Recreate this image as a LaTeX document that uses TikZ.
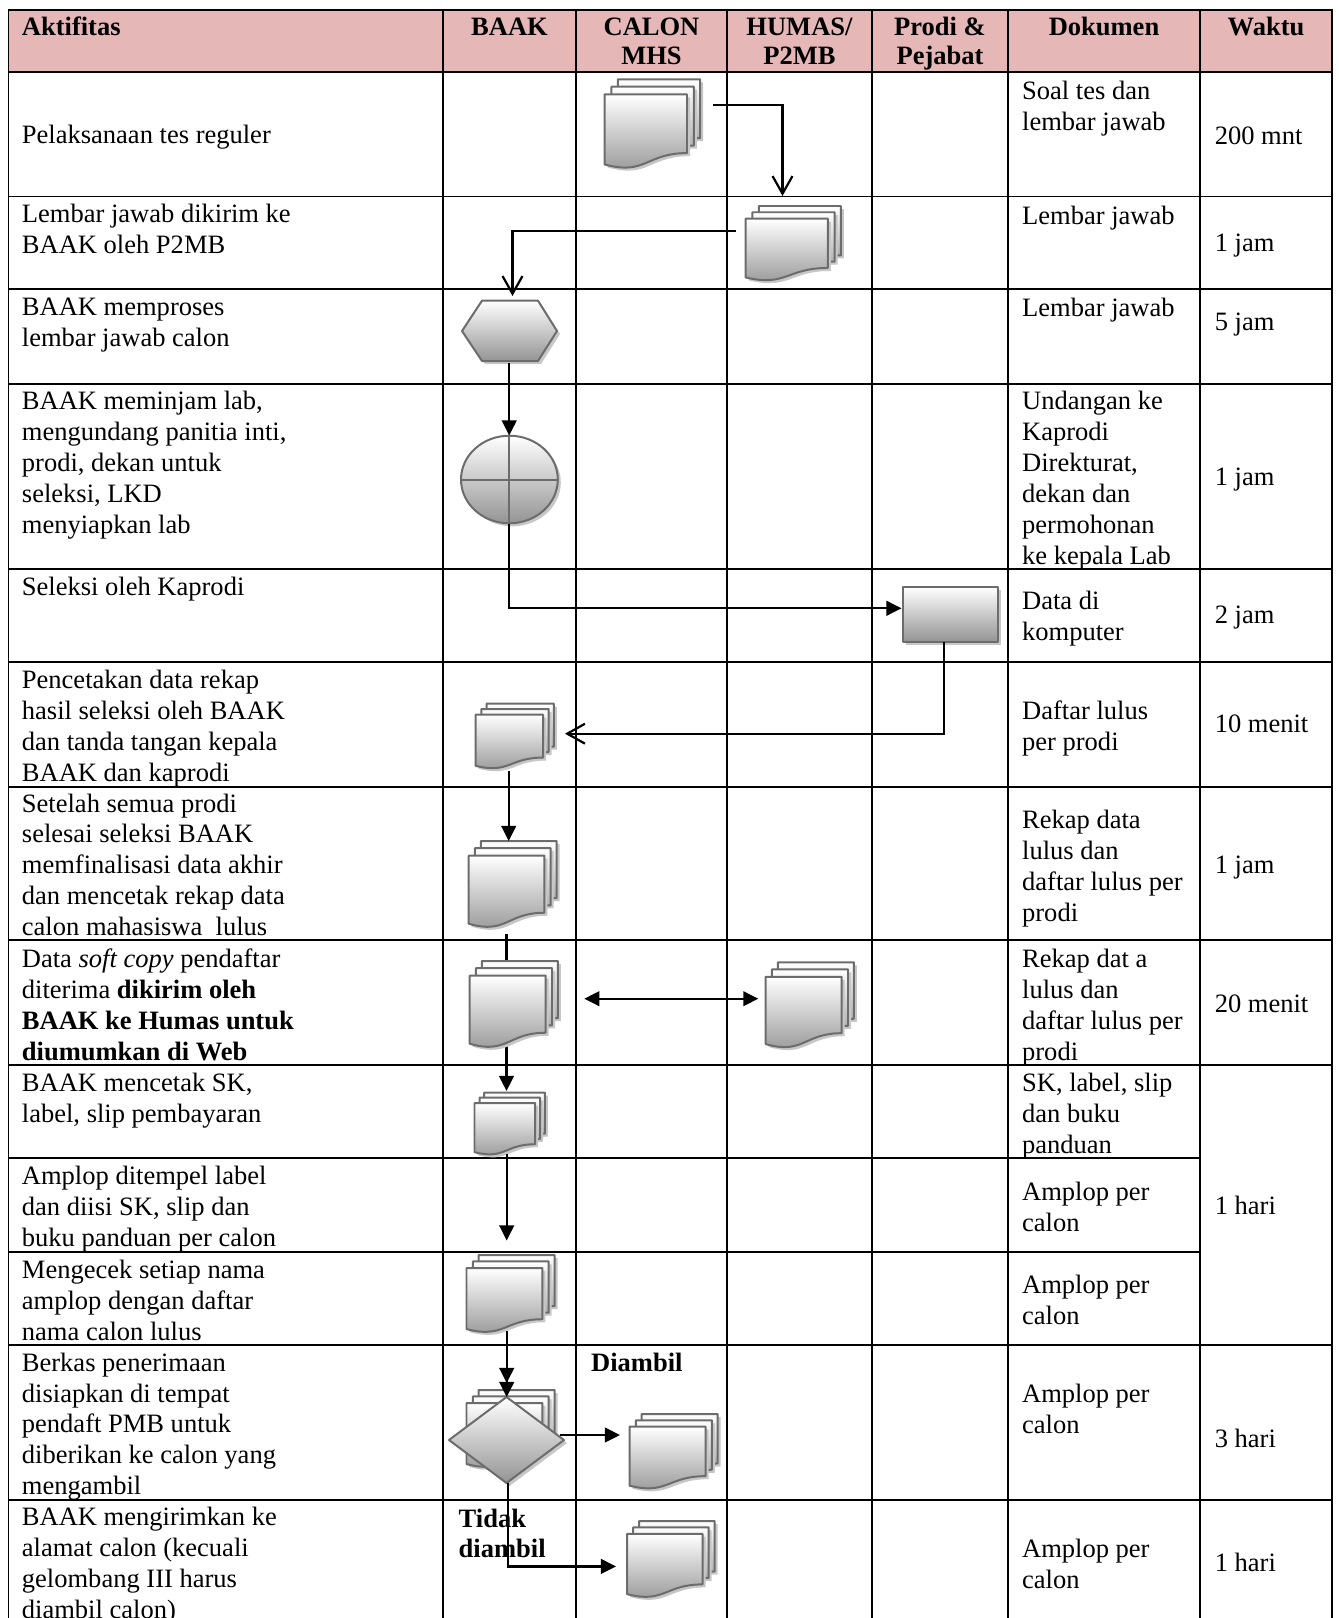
\documentclass[tikz,border=0pt]{standalone}
\usepackage{fontspec}
\setmainfont{Liberation Serif}
\usetikzlibrary{arrows.meta}
\definecolor{hdr}{RGB}{229,184,183}
\definecolor{shp}{RGB}{108,108,108}
\tikzset{
  grid/.style={line width=0.9pt, line cap=rect},
  txt/.style={anchor=north west, inner sep=0pt, align=left, font=\fontsize{12}{14}\selectfont},
  hd/.style={anchor=north, inner sep=0pt, align=center, font=\fontsize{12}{13.5}\selectfont\bfseries},
  lbl/.style={anchor=north west, inner sep=0pt, align=left, font=\fontsize{12}{13.4}\selectfont\bfseries},
  shfill/.style={fill=black!22, draw=none},
  pgfill/.style={draw=shp, line width=0.9pt, top color=white, bottom color=black!42, line join=round},
  crossln/.style={draw=shp, line width=0.9pt},
  conn/.style={line width=1pt, -{Triangle[length=6.8pt,width=6.6pt]}},
  openconn/.style={line width=1pt, -{Straight Barb[length=8pt,width=9pt]}},
  bothconn/.style={line width=1pt, {Triangle[length=6.8pt,width=6.6pt]}-{Triangle[length=6.8pt,width=6.6pt]}},
}
\newcommand\mdocpage[5]{%
  \path[#5] ({#1},{#2}) -- ({#1+#3},{#2}) -- ({#1+#3},{#2+0.664*#4})
    .. controls ({#1+0.5*#3},{#2+0.664*#4}) and ({#1+0.5*#3},{#2+0.92*#4}) .. ({#1},{#2+0.792*#4}) -- cycle;}
\newcommand\mdoc[4]{%
  \foreach \dx/\dy in {0.138/0,0.071/0.084,0/0.17}{%
    \mdocpage{#1+\dx*#3+3}{#2+\dy*#4+3}{0.861*#3}{#4}{shfill}%
    \mdocpage{#1+\dx*#3}{#2+\dy*#4}{0.861*#3}{#4}{pgfill}%
  }}
\begin{document}
\begin{tikzpicture}[x=0.4525pt,y=-0.4525pt]
\useasboundingbox (0,0) rectangle (1339,1618);
\fill[white] (0,0) rectangle (1339,1618);
% header
\fill[hdr] (8.5,10) rectangle (1332,72);
% grid
\foreach \y in {10,72,196.5,289,383.5,568.5,661.5,786.5,940,1064.7,1344.5,1499.5}
  \draw[grid] (8.5,\y) -- (1332,\y);
\foreach \y in {1158.4,1251.5}
  \draw[grid] (8.5,\y) -- (1200,\y);
\foreach \x in {8.5,443,576,727,872,1008,1200,1332}
  \draw[grid] (\x,10) -- (\x,1618);
% header texts
\node[hd, anchor=north west] (hA) at (21.5,13.8) {\strut Aktifitas};
\node[hd] (hB) at (509.5,13.8) {\strut BAAK};
\node[hd] (hC) at (651.5,13.8) {\strut CALON\\MHS};
\node[hd] (hH) at (799.5,13.8) {\strut HUMAS/\\P2MB};
\node[hd] (hP) at (940,13.8) {\strut Prodi \&\\Pejabat};
\node[hd] (hD) at (1104,13.8) {\strut Dokumen};
\node[hd] (hW) at (1266,13.8) {\strut Waktu};
% Aktifitas
\node[txt] (a1) at (21.5,121.8) {\strut Pelaksanaan tes reguler};
\node[txt] (a2) at (21.5,200.3) {\strut Lembar jawab dikirim ke\\BAAK oleh P2MB};
\node[txt] (a3) at (21.5,293.7) {\strut BAAK memproses\\lembar jawab calon};
\node[txt] (a4) at (21.5,387.6) {\strut BAAK meminjam lab,\\mengundang panitia inti,\\prodi, dekan untuk\\seleksi, LKD\\menyiapkan lab};
\node[txt] (a5) at (21.5,573.3) {\strut Seleksi oleh Kaprodi};
\node[txt] (a6) at (21.5,666.1) {\strut Pencetakan data rekap\\hasil seleksi oleh BAAK\\dan tanda tangan kepala\\BAAK dan kaprodi};
\node[txt] (a7) at (21.5,789.9) {\strut Setelah semua prodi\\selesai seleksi BAAK\\memfinalisasi data akhir\\dan mencetak rekap data\\calon mahasiswa\ \ lulus};
\node[txt] (a8) at (21.5,945.7) {\strut Data \textit{soft copy} pendaftar\\diterima \textbf{dikirim oleh}\\\textbf{BAAK ke Humas untuk}\\\textbf{diumumkan di Web}};
\node[txt] (a9) at (21.5,1069.4) {\strut BAAK mencetak SK,\\label, slip pembayaran};
\node[txt] (a10) at (21.5,1162.3) {\strut Amplop ditempel label\\dan diisi SK, slip dan\\buku panduan per calon};
\node[txt] (a11) at (21.5,1256.2) {\strut Mengecek setiap nama\\amplop dengan daftar\\nama calon lulus};
\node[txt] (a12) at (21.5,1349) {\strut Berkas penerimaan\\disiapkan di tempat\\pendaft PMB untuk\\diberikan ke calon yang\\mengambil};
\node[txt] (a13) at (21.5,1503.8) {\strut BAAK mengirimkan ke\\alamat calon (kecuali\\gelombang III harus\\diambil calon)};
% Dokumen
\node[txt] (d1) at (1021.7,77.3) {\strut Soal tes dan\\lembar jawab};
\node[txt] (d2) at (1021.7,201.9) {\strut Lembar jawab};
\node[txt] (d3) at (1021.7,294.7) {\strut Lembar jawab};
\node[txt] (d4) at (1021.7,387.6) {\strut Undangan ke\\Kaprodi\\Direkturat,\\dekan dan\\permohonan\\ke kepala Lab};
\node[txt] (d5) at (1021.7,587.7) {\strut Data di\\komputer};
\node[txt] (d6) at (1021.7,697) {\strut Daftar lulus\\per prodi};
\node[txt] (d7) at (1021.7,806.8) {\strut Rekap data\\lulus dan\\daftar lulus per\\prodi};
\node[txt] (d8) at (1021.7,945.3) {\strut Rekap dat a\\lulus dan\\daftar lulus per\\prodi};
\node[txt] (d9) at (1021.7,1069.3) {\strut SK, label, slip\\dan buku\\panduan};
\node[txt] (d10) at (1021.7,1178.8) {\strut Amplop per\\calon};
\node[txt] (d11) at (1021.7,1271.5) {\strut Amplop per\\calon};
\node[txt] (d12) at (1021.7,1380.3) {\strut Amplop per\\calon};
\node[txt] (d13) at (1021.7,1535.3) {\strut Amplop per\\calon};
% Waktu
\node[txt] (w1) at (1214.3,122.3) {\strut 200 mnt};
\node[txt] (w2) at (1214.3,229.3) {\strut 1 jam};
\node[txt] (w3) at (1214.3,308.3) {\strut 5 jam};
\node[txt] (w4) at (1214.3,463.3) {\strut 1 jam};
\node[txt] (w5) at (1214.3,601.8) {\strut 2 jam};
\node[txt] (w6) at (1214.3,710.8) {\strut 10 menit};
\node[txt] (w7) at (1214.3,851.3) {\strut 1 jam};
\node[txt] (w8) at (1214.3,990.3) {\strut 20 menit};
\node[txt] (w9) at (1214.3,1192.3) {\strut 1 hari};
\node[txt] (w12) at (1214.3,1425.3) {\strut 3 hari};
\node[txt] (w13) at (1214.3,1549.3) {\strut 1 hari};
% labels
\node[lbl] (lD) at (590.7,1350.3) {\strut Diambil};
\node[lbl] (lT) at (458.3,1506.3) {\strut Tidak\\diambil};
% connector coordinates
\coordinate (p1s) at (713,104.7);   \coordinate (p1e) at (782.5,196);
\coordinate (p2s) at (736,230.7);   \coordinate (p2e) at (512.5,296);
\coordinate (p3s) at (509.2,363);   \coordinate (p3e) at (509.2,435.5);
\coordinate (p4s) at (509.2,523.5); \coordinate (p4e) at (901.5,608.3);
\coordinate (p5s) at (944.3,641.5); \coordinate (p5e) at (565,733.7);
\coordinate (p6s) at (508.7,770.7); \coordinate (p6e) at (508.7,841);
\coordinate (p7s) at (506.5,934);   \coordinate (p7e) at (506.5,1091);
\coordinate (p8s) at (584.3,998.7); \coordinate (p8e) at (758.3,998.7);
\coordinate (p9s) at (506.7,1154);  \coordinate (p9e) at (506.7,1240.5);
\coordinate (p10s) at (506.7,1331); \coordinate (p10m) at (506.7,1383); \coordinate (p10e) at (506.7,1397);
\coordinate (p11s) at (560,1435);   \coordinate (p11e) at (620,1435);
\coordinate (p12s) at (508.3,1483); \coordinate (p12e) at (616,1566.4);
% line passing behind row-8 document
\draw[conn] (p7s) -- (p7e);
% shapes
\mdoc{604.6}{79.3}{95.7}{88.5}
\mdoc{745.7}{206}{95.3}{74.3}
% hexagon
\path[shfill] (465,334) -- (485,303.7) -- (541,303.7) -- (560,334) -- (541,364) -- (485,364) -- cycle;
\path[pgfill] (462,331) -- (482,300.7) -- (538,300.7) -- (557,331) -- (538,361) -- (482,361) -- cycle;
% circle with cross
\path[shfill] (512.4,482.5) ellipse [x radius=48.4, y radius=43.8];
\path[pgfill] (509.4,479.5) ellipse [x radius=48.4, y radius=43.8];
\draw[crossln] (461,479.5) -- (557.8,479.5);
\draw[crossln] (509.4,435.7) -- (509.4,523.3);
% rectangle
\path[shfill] (906,590) rectangle (1001,644.5);
\path[pgfill] (903,587) rectangle (998,641.5);
\mdoc{475.7}{703.7}{78.3}{64.6}
\mdoc{468.7}{841}{88}{86}
\mdoc{469.7}{961}{88.3}{86}
\mdoc{765.7}{962.3}{88.3}{85}
\mdoc{474.5}{1092.5}{70.5}{62}
\mdoc{466.5}{1255}{88.2}{77}
\mdoc{466.5}{1390}{88.2}{77}
% diamond
\path[shfill] (452,1443) -- (509.5,1400) -- (567,1443) -- (509.5,1486) -- cycle;
\path[pgfill] (449,1440) -- (506.5,1397) -- (564,1440) -- (506.5,1483) -- cycle;
\mdoc{629.5}{1414}{88.3}{74.5}
\mdoc{627}{1521}{87.7}{76}
% connectors
\draw[openconn] (p1s) -| (p1e);
\draw[openconn] (p2s) -| (p2e);
\draw[conn] (p3s) -- (p3e);
\draw[conn] (p4s) |- (p4e);
\draw[openconn] (p5s) |- (p5e);
\draw[conn] (p6s) -- (p6e);
\draw[bothconn] (p8s) -- (p8e);
\draw[conn] (p9s) -- (p9e);
\draw[conn] (p10s) -- (p10m);
\draw[conn] (p10s) -- (p10e);
\draw[conn] (p11s) -- (p11e);
\draw[conn] (p12s) |- (p12e);
\end{tikzpicture}
\end{document}
